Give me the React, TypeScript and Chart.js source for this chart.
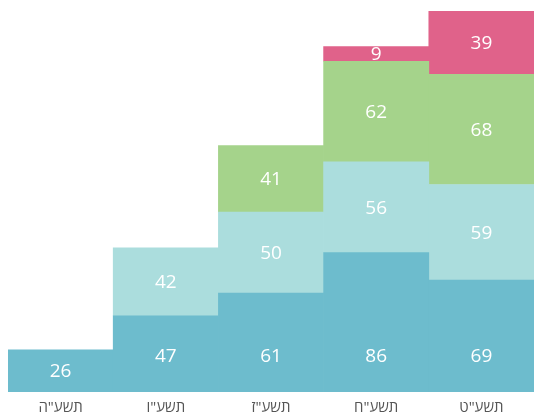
import React, { useEffect, useRef } from "react";
import { Chart, registerables } from "chart.js";

Chart.register(...registerables);

const categories = ["תשע\"ה", "תשע\"ו", "תשע\"ז", "תשע\"ח", "תשע\"ט"];
const series1 = [26, 47, 61, 86, 69];
const series2 = [null, 42, 50, 56, 59];
const series3 = [null, null, 41, 62, 68];
const series4 = [null, null, null, 9, 39];
const colors = ["#6dbccd", "#abdddd", "#a5d38b", "#e0628a"];

const labelPlugin = {
  id: "barLabels",
  afterDatasetsDraw(chart: any) {
    const ctx = chart.ctx;
    ctx.save();
    ctx.fillStyle = "#ffffff";
    ctx.font = "19px 'Open Sans'";
    ctx.textAlign = "center";
    ctx.textBaseline = "middle";
    chart.data.datasets.forEach((ds: any, i: number) => {
      const meta = chart.getDatasetMeta(i);
      meta.data.forEach((el: any, j: number) => {
        const v = ds.data[j];
        if (v === null || v === undefined) return;
        let y = (el.y + el.base) / 2;
        if (i === 0) y = Math.max(y, el.base - 36);
        ctx.fillText(String(v), el.x, y + 1);
      });
    });
    ctx.restore();
  },
};

export default function App() {
  const ref = useRef<HTMLCanvasElement>(null);
  useEffect(() => {
    const data = [series1, series2, series3, series4];
    const chart = new Chart(ref.current!, {
      type: "bar",
      data: {
        labels: categories,
        datasets: data.map((d, i) => ({
          label: "s" + i,
          data: d as any,
          backgroundColor: colors[i],
          borderWidth: 0,
          barPercentage: 1,
          categoryPercentage: 1,
        })),
      },
      options: {
        animation: false,
        responsive: false,
        maintainAspectRatio: false,
        layout: { padding: { top: 11, left: 0, right: 0, bottom: 0 } },
        plugins: { legend: { display: false }, tooltip: { enabled: false } },
        scales: {
          x: {
            stacked: true,
            grid: { display: false, drawTicks: false },
            border: { display: false },
            afterFit: (scale: any) => {
              scale.height = 22;
            },
            ticks: {
              color: "#555555",
              font: { family: "'Open Sans'", size: 15 },
              padding: 7,
            },
          },
          y: {
            stacked: true,
            display: false,
            min: 0,
            max: 235,
          },
        },
      },
      plugins: [labelPlugin],
    });
    return () => chart.destroy();
  }, []);
  return (
    <div style={{ position: "absolute", left: 8, top: 0, width: 526, height: 414 }}>
      <canvas ref={ref} width={526} height={414} style={{ display: "block" }} />
    </div>
  );
}
